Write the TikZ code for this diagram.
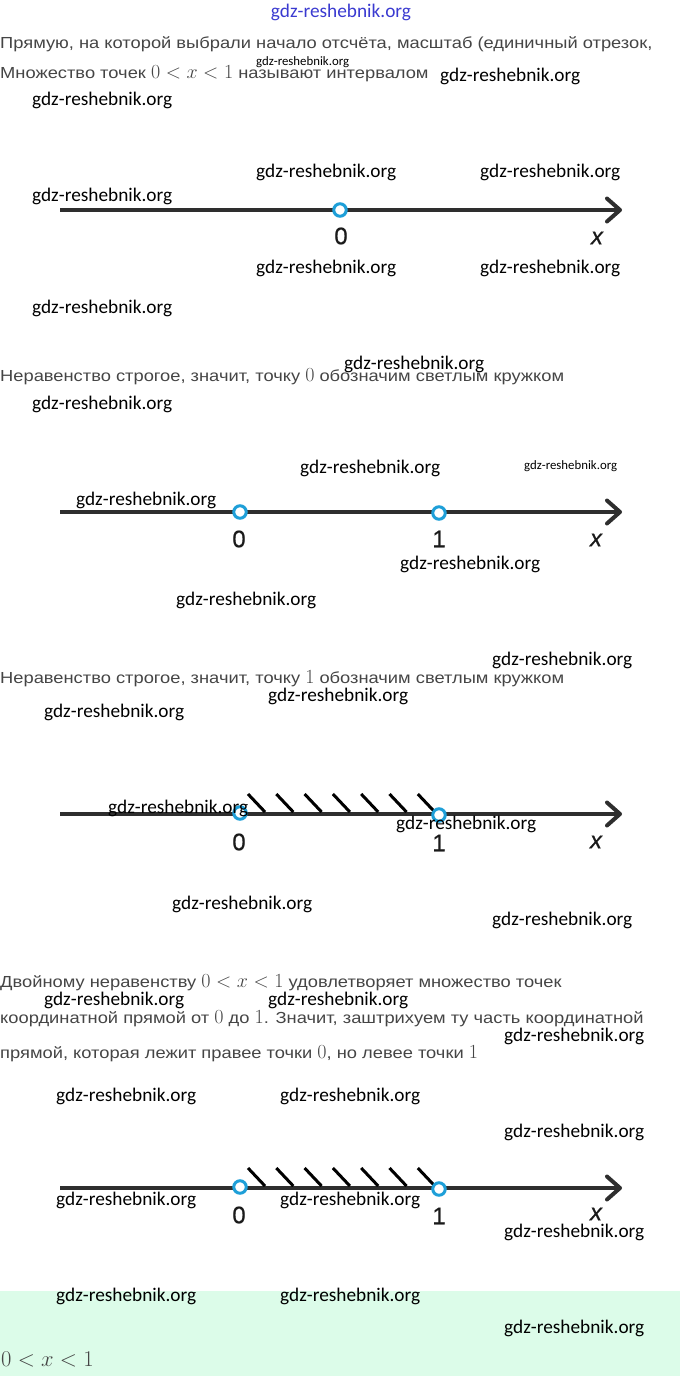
\RequirePackage{fix-cm}
\documentclass[tikz,border=0pt]{standalone}
\usepackage{fontspec}
\setmainfont{Liberation Sans}
\newfontfamily\txtf[FakeStretch=1.144]{Liberation Sans}
\newfontfamily\wmf{Carlito}
\newfontfamily\lblf[FakeBold=0.6]{Liberation Sans}
\usetikzlibrary{arrows.meta}
\definecolor{txtc}{HTML}{454545}
\definecolor{labc}{HTML}{1A1A1A}
\definecolor{axc}{HTML}{2E2E2E}
\definecolor{ptc}{HTML}{1E9FD8}
\definecolor{wmblue}{HTML}{3A3AD0}
\definecolor{greenbg}{HTML}{DCFCE9}
\newcommand\mth[1]{{\fontsize{20}{20}\selectfont$#1$}}
\tikzset{
  txt/.style={anchor=base west, inner sep=0pt, text=txtc, font=\txtf\fontsize{16}{18}\selectfont},
  wm/.style={anchor=west, inner sep=0pt, text=black, font=\wmf\fontsize{19.3}{22}\selectfont},
  wms/.style={anchor=west, inner sep=0pt, text=black, font=\wmf\fontsize{12.8}{14}\selectfont},
  axis/.style={draw=axc, line width=4pt, -{Straight Barb[length=13pt,width=23pt,round]}},
  hatchline/.style={draw=black, line width=3pt},
  pt/.style={circle, draw=ptc, fill=white, line width=3pt, minimum size=12.5pt, inner sep=0pt},
  lbl/.style={inner sep=0pt, text=labc, font=\lblf\fontsize{24}{24}\selectfont}
}
\begin{document}
\begin{tikzpicture}[x=1pt,y=-1pt]
\useasboundingbox (0,0) rectangle (680,1376);
\fill[greenbg] (0,1291) rectangle (680,1376);

% texts
\node[anchor=center, inner sep=0pt, text=wmblue, font=\wmf\fontsize{19.3}{22}\selectfont] (wtop) at (341,12) {gdz-reshebnik.org};
\node[txt] (t1) at (0,48) {Прямую, на которой выбрали начало отсчёта, масштаб (единичный отрезок,};
\node[txt] (t2) at (0,78) {Множество точек \mth{0<x<1} называют интервалом};
\node[txt] (t3) at (0,381) {Неравенство строгое, значит, точку \mth{0} обозначим светлым кружком};
\node[txt] (t4) at (0,683) {Неравенство строгое, значит, точку \mth{1} обозначим светлым кружком};
\node[txt] (t5) at (0,987) {Двойному неравенству \mth{0<x<1} удовлетворяет множество точек};
\node[txt] (t6) at (0,1023) {координатной прямой от \mth{0} до \mth{1}. Значит, заштрихуем ту часть координатной};
\node[txt] (t7) at (0,1058) {прямой, которая лежит правее точки \mth{0}, но левее точки \mth{1}};
\node[anchor=base west, inner sep=0pt, text=txtc, font=\fontsize{22.5}{24}\selectfont] (t8) at (1,1366) {$0<x<1$};

% axis 1
\coordinate (a1s) at (60,210);
\coordinate (a1e) at (622,210);
\draw[axis] (a1s) -- (a1e);
\node[pt] (a1z) at (340,210) {};
\node[lbl] (a1l0) at (341,236) {0};
\node[lbl] (a1lx) at (597,238) {\itshape x};

% axis 2
\coordinate (a2s) at (60,512);
\coordinate (a2e) at (622,512);
\draw[axis] (a2s) -- (a2e);
\node[pt] (a2z) at (240,512) {};
\node[pt] (a2o) at (439,513) {};
\node[lbl] (a2l0) at (239,539) {0};
\node[lbl] (a2l1) at (439,539) {1};
\node[lbl] (a2lx) at (596,540) {\itshape x};

% axis 3
\coordinate (a3s) at (60,814);
\coordinate (a3e) at (622,814);
\draw[axis] (a3s) -- (a3e);
\foreach \i in {0,...,6} {
  \draw[hatchline] (248+28.3*\i,794) -- (265+28.3*\i,812);
}
\node[pt] (a3z) at (240,813) {};
\node[pt] (a3o) at (439,815) {};
\node[lbl] (a3l0) at (239,842) {0};
\node[lbl] (a3l1) at (439,843) {1};
\node[lbl] (a3lx) at (596,842) {\itshape x};

% axis 4
\coordinate (a4s) at (60,1188);
\coordinate (a4e) at (622,1188);
\draw[axis] (a4s) -- (a4e);
\foreach \i in {0,...,6} {
  \draw[hatchline] (248+28.3*\i,1168) -- (265+28.3*\i,1186);
}
\node[pt] (a4z) at (240,1187) {};
\node[pt] (a4o) at (439,1189) {};
\node[lbl] (a4l0) at (239,1215) {0};
\node[lbl] (a4l1) at (439,1216) {1};
\node[lbl] (a4lx) at (596,1214) {\itshape x};

% watermarks
\node[wms] (w1) at (256,62) {gdz-reshebnik.org};
\node[wm] (w2) at (440,76) {gdz-reshebnik.org};
\node[wm] (w3) at (32,100) {gdz-reshebnik.org};
\node[wm] (w4) at (256,172) {gdz-reshebnik.org};
\node[wm] (w5) at (480,172) {gdz-reshebnik.org};
\node[wm] (w6) at (32,196) {gdz-reshebnik.org};
\node[wm] (w7) at (256,268) {gdz-reshebnik.org};
\node[wm] (w8) at (480,268) {gdz-reshebnik.org};
\node[wm] (w9) at (32,308) {gdz-reshebnik.org};
\node[wm] (w10) at (344,364) {gdz-reshebnik.org};
\node[wm] (w11) at (32,404) {gdz-reshebnik.org};
\node[wm] (w12) at (300,468) {gdz-reshebnik.org};
\node[wms] (w13) at (524,466) {gdz-reshebnik.org};
\node[wm] (w14) at (76,500) {gdz-reshebnik.org};
\node[wm] (w15) at (400,564) {gdz-reshebnik.org};
\node[wm] (w16) at (176,600) {gdz-reshebnik.org};
\node[wm] (w17) at (492,660) {gdz-reshebnik.org};
\node[wm] (w18) at (268,696) {gdz-reshebnik.org};
\node[wm] (w19) at (44,712) {gdz-reshebnik.org};
\node[wm] (w20) at (108,808) {gdz-reshebnik.org};
\node[wm] (w21) at (396,824) {gdz-reshebnik.org};
\node[wm] (w22) at (172,904) {gdz-reshebnik.org};
\node[wm] (w23) at (492,920) {gdz-reshebnik.org};
\node[wm] (w24) at (44,1000) {gdz-reshebnik.org};
\node[wm] (w25) at (268,1000) {gdz-reshebnik.org};
\node[wm] (w26) at (504,1036) {gdz-reshebnik.org};
\node[wm] (w27) at (56,1096) {gdz-reshebnik.org};
\node[wm] (w28) at (280,1096) {gdz-reshebnik.org};
\node[wm] (w29) at (504,1132) {gdz-reshebnik.org};
\node[wm] (w30) at (56,1200) {gdz-reshebnik.org};
\node[wm] (w31) at (280,1200) {gdz-reshebnik.org};
\node[wm] (w32) at (504,1232) {gdz-reshebnik.org};
\node[wm] (w33) at (56,1296) {gdz-reshebnik.org};
\node[wm] (w34) at (280,1296) {gdz-reshebnik.org};
\node[wm] (w35) at (504,1328) {gdz-reshebnik.org};
\end{tikzpicture}
\end{document}
